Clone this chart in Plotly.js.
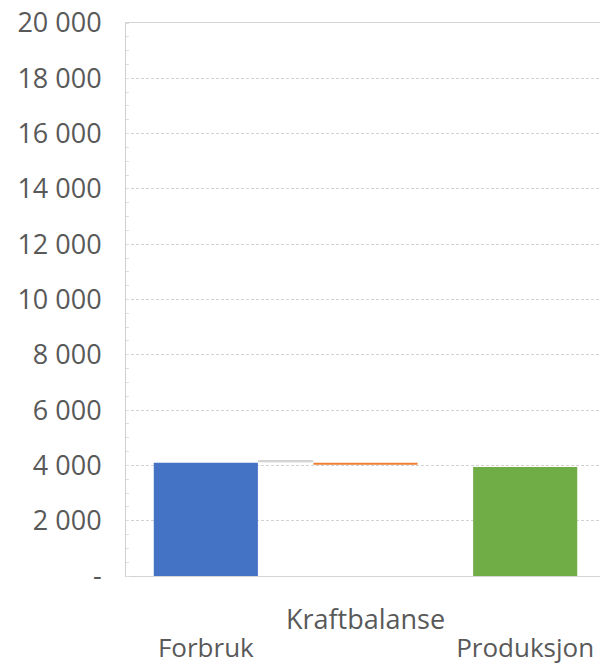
<!DOCTYPE html>
<html>
<head>
<meta charset="utf-8">
<script src="https://cdn.plot.ly/plotly-3.0.1.min.js"></script>
<style>
  html, body { margin: 0; padding: 0; background: #ffffff; overflow: hidden; }
  #chart { width: 620px; height: 667px; }
</style>
</head>
<body>
<div id="chart"></div>
<script>
// Kraftbalanse: forbruk, balanse og produksjon (GWh)
const categories = ["Forbruk", "Kraftbalanse", "Produksjon"];
const categoryPos = [0, 1, 2];

const forbruk = 4100;
const produksjon = 3940;

// Balansen vises som et tynt flytende segment
const balanseBase = 4020;
const balanseHoyde = 80;

// Lite hjelpesegment mellom Forbruk og Kraftbalanse
const hjelpPos = 0.5;
const hjelpBase = 4130;
const hjelpHoyde = 40;

const yTickVals = [0, 2000, 4000, 6000, 8000, 10000, 12000, 14000, 16000, 18000, 20000];
const yTickText = ["-", "2 000", "4 000", "6 000", "8 000", "10 000", "12 000", "14 000", "16 000", "18 000", "20 000"];

const upperLabels = [categories[1]];
const upperPos = [categoryPos[1]];
const lowerLabels = [categories[0], categories[2]];
const lowerPos = [categoryPos[0], categoryPos[2]];

const fontFamily = "Open Sans, Noto Sans, sans-serif";
const tickFont = { family: fontFamily, size: 27, color: "#595959" };
const lowerFont = { family: fontFamily, size: 26, color: "#595959" };

const traces = [
  {
    type: "bar", name: "Forbruk",
    x: [categoryPos[0]], y: [forbruk], width: 0.652,
    marker: { color: "#4472C4", line: { width: 0 } },
    hoverinfo: "skip"
  },
  {
    type: "bar", name: "Hjelp",
    x: [hjelpPos], y: [hjelpHoyde], base: [hjelpBase], width: 0.34,
    marker: { color: "#ffffff", line: { color: "#c8c8c8", width: 1 } },
    hoverinfo: "skip"
  },
  {
    type: "bar", name: "Kraftbalanse",
    x: [categoryPos[1]], y: [balanseHoyde], base: [balanseBase], width: 0.652,
    marker: { color: "#ED7D31", line: { width: 0 } },
    hoverinfo: "skip"
  },
  {
    type: "bar", name: "Produksjon",
    x: [categoryPos[2]], y: [produksjon], width: 0.652,
    marker: { color: "#70AD47", line: { width: 0 } },
    hoverinfo: "skip"
  },
  {
    // bærer den nederste raden med kategorinavn
    type: "scatter", mode: "markers", x: [], y: [],
    xaxis: "x2", yaxis: "y", hoverinfo: "skip", showlegend: false
  }
];

const layout = {
  width: 620, height: 667,
  margin: { l: 126, r: 15, t: 23, b: 91 },
  paper_bgcolor: "#ffffff", plot_bgcolor: "#ffffff",
  showlegend: false,
  barmode: "overlay",
  xaxis: {
    range: [-0.5, 2.5],
    tickvals: upperPos, ticktext: upperLabels,
    tickfont: tickFont,
    ticks: "", ticklabelstandoff: 20,
    showgrid: false, zeroline: false,
    showline: true, mirror: true, linecolor: "#d4d4d4", linewidth: 1,
    fixedrange: true
  },
  xaxis2: {
    overlaying: "x", matches: "x", side: "bottom",
    range: [-0.5, 2.5],
    tickvals: lowerPos, ticktext: lowerLabels,
    tickfont: lowerFont,
    ticks: "", ticklabelstandoff: 54,
    showgrid: false, zeroline: false, showline: false,
    fixedrange: true
  },
  yaxis: {
    range: [0, 20000],
    tickvals: yTickVals, ticktext: yTickText,
    tickfont: tickFont,
    ticks: "", ticklabelstandoff: 18,
    showgrid: true, gridcolor: "#d2d2d2", gridwidth: 1, griddash: "3px,2px",
    zeroline: false,
    showline: true, linecolor: "#d0d0d0", linewidth: 1,
    minor: { dtick: 500, ticks: "inside", ticklen: 3, tickcolor: "#e0e0e0", showgrid: false },
    fixedrange: true
  }
};

Plotly.newPlot("chart", traces, layout, { displayModeBar: false, staticPlot: true });
</script>
</body>
</html>
